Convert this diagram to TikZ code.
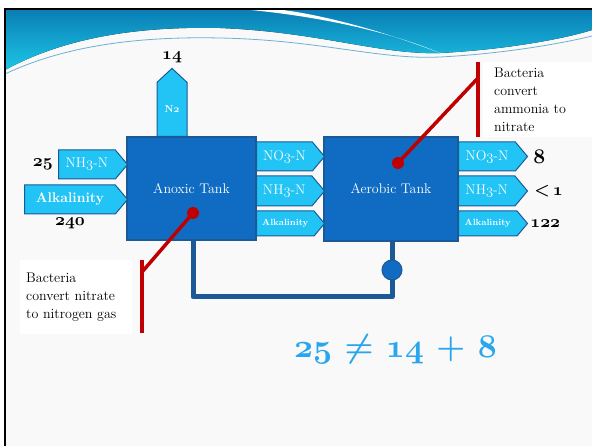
\documentclass[tikz,border=0pt]{standalone}
\usepackage{tikz}
\usetikzlibrary{shapes.symbols, positioning}
\definecolor{tankblue}{HTML}{106CC2}
\definecolor{edgeblue}{HTML}{1C5A97}
\definecolor{flowcyan}{HTML}{22C4F6}
\definecolor{notered}{HTML}{C00000}
\definecolor{eqblue}{HTML}{2AA6EE}
\definecolor{headdark}{HTML}{0A7DB4}
\definecolor{headlight}{HTML}{1CC6E6}
\definecolor{slidebg}{HTML}{F9F9F9}
% old style figures, light and bold
\newcommand{\osn}[1]{{\fontencoding{OML}\fontfamily{cmm}\fontseries{m}\fontshape{it}\selectfont #1}}
\newcommand{\osnb}[1]{{\fontencoding{OML}\fontfamily{cmm}\fontseries{b}\fontshape{it}\selectfont #1}}

\begin{document}
\begin{tikzpicture}[x=1pt, y=-1pt,
    tank/.style={rectangle, draw=edgeblue, fill=tankblue, line width=1.2pt,
        text=white, font=\fontsize{14}{16}\selectfont},
    flow/.style={signal, signal to=east, signal pointer angle=100, draw=edgeblue,
        fill=flowcyan, line width=1pt, text=white, inner sep=0pt,
        font=\fontsize{14}{16}\selectfont},
    val/.style={inner sep=0pt, font=\fontsize{17.28}{19}\selectfont},
    notebox/.style={rectangle, fill=white, align=left, inner xsep=6pt,
        font=\fontsize{14}{18}\selectfont},
    reddot/.style={circle, fill=notered, inner sep=0pt, minimum size=12pt},
    callout/.style={draw=notered, line width=3.5pt},
    pipe/.style={draw=edgeblue, line width=5pt, line join=round},
    pump/.style={circle, fill=tankblue, draw=edgeblue, line width=1pt, minimum size=20pt, inner sep=0pt},
    eqn/.style={text=eqblue, scale=1.33, transform shape,
        font=\bfseries\boldmath\fontsize{24.88}{28}\selectfont}]
    \useasboundingbox (0,0) rectangle (592,446);

    % slide
    \fill[white] (0,0) rectangle (592,446);
    \fill[slidebg] (5,9) rectangle (592,446);
    \fill[top color=headdark, bottom color=headlight] (5,9) -- (592,9) -- (592,30)
        .. controls (560,40) and (500,50) .. (440,53)
        .. controls (380,55) and (320,32) .. (220,28)
        .. controls (130,26) and (60,40) .. (5,70) -- cycle;
    \fill[white] (240,9) .. controls (320,16) and (390,32) .. (440,53)
        .. controls (380,30) and (320,14) .. (275,9) -- cycle;
    \draw[headdark!60, line width=0.8pt] (5,74) .. controls (60,48) and (130,36) .. (220,38)
        .. controls (320,40) and (380,60) .. (440,57) .. controls (500,54) and (560,44) .. (592,36);
    \draw[line width=2.5pt] (5,446) -- (5,9) -- (592,9);

    % recycle line
    \coordinate (pipeL) at (193,297);
    \coordinate (pipeR) at (392,297);
    \draw[pipe] (193,240) -- (pipeL) -- (pipeR) -- (392,241);

    % tanks
    \node[flow, signal to=north, signal pointer angle=94, minimum width=30, minimum height=61,
        anchor=south, font=\bfseries\fontsize{10}{12}\selectfont] (n2) at (172,137) {N\osnb{2}};
    \node[tank, minimum width=129, minimum height=103] (anoxic) at (191.5,188.5) {Anoxic Tank};
    \node[tank, minimum width=134, minimum height=104] (aerobic) at (391,189) {Aerobic Tank};
    \node[pump] (pump) at (392,270) {};

    % streams
    \node[flow, minimum width=69, minimum height=29, anchor=west] (nh3in) at (58,164.5) {NH\osn{3}-N};
    \node[flow, minimum width=103, minimum height=29, anchor=west,
        font=\bfseries\fontsize{14}{16}\selectfont] (alkin) at (24,199.5) {Alkalinity};
    \node[flow, minimum width=68, minimum height=29, anchor=west] (no3mid) at (256,156.5) {NO\osn{3}-N};
    \node[flow, minimum width=68, minimum height=30, anchor=west] (nh3mid) at (256,191) {NH\osn{3}-N};
    \node[flow, minimum width=68, minimum height=25, anchor=west,
        font=\bfseries\fontsize{9}{11}\selectfont] (alkmid) at (256,223.5) {Alkalinity};
    \node[flow, minimum width=69, minimum height=29, anchor=west] (no3out) at (458,156.5) {NO\osn{3}-N};
    \node[flow, minimum width=69, minimum height=30, anchor=west] (nh3out) at (458,191) {NH\osn{3}-N};
    \node[flow, minimum width=69, minimum height=25, anchor=west,
        font=\bfseries\fontsize{9}{11}\selectfont] (alkout) at (458,223.5) {Alkalinity};

    % numbers
    \node[val] (n2val) at (172,57) {\osnb{14}};
    \node[val, left=5pt of nh3in] (nh3inval) {\osnb{25}};
    \node[val] (alkinval) at (70,223) {\osnb{240}};
    \node[val, right=5pt of no3out, font=\fontsize{20.74}{22}\selectfont] (no3val) {\osnb{8}};
    \node[val, right=6pt of nh3out] (nh3val) {\osnb{<}\hspace{3pt}\osnb{1}};
    \node[val, right=2pt of alkout] (alkval) {\osnb{122}};

    % notes
    \node[notebox, text width=100, minimum height=74, anchor=north west] (lnote) at (20,260)
        {Bacteria\\convert nitrate\\to nitrogen gas};
    \node[notebox, inner xsep=11pt, text width=95, minimum height=75, anchor=north west] (rnote) at (483,62)
        {Bacteria\\convert\\ammonia to\\nitrate};
    \node[reddot] (anoxdot) at (193,213) {};
    \node[reddot] (aerodot) at (398,163) {};
    \coordinate (lbend) at (142,272);
    \coordinate (ltop) at (142,260);
    \coordinate (lbot) at (142,333);
    \coordinate (rbend) at (478,78);
    \coordinate (rtop) at (478,62);
    \coordinate (rbot) at (478,137);
    \draw[callout] (anoxdot.center) -- (lbend);
    \draw[callout] (ltop) -- (lbot);
    \draw[callout] (aerodot.center) -- (rbend);
    \draw[callout] (rtop) -- (rbot);

    % balance
    \node[eqn] (balance) at (395.5,349) {\osnb{25} $\neq$ \osnb{14} $+$ \osnb{8}};
\end{tikzpicture}
\end{document}
